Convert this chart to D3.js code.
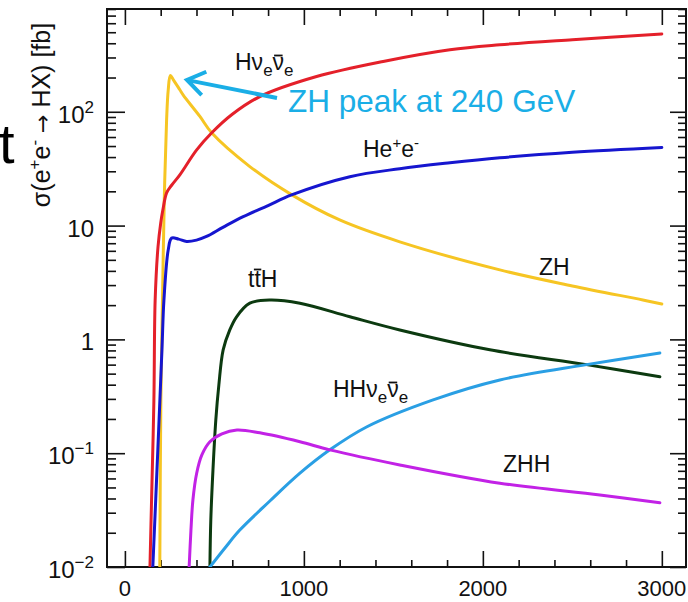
<!DOCTYPE html>
<html><head><meta charset="utf-8">
<script src="https://cdn.jsdelivr.net/npm/d3@7"></script>
<style>
html,body{margin:0;padding:0;background:#fff;}
svg{display:block;font-family:"Liberation Sans",Arial,Helvetica,sans-serif;}
</style></head>
<body>
<svg id="chart" width="688" height="602"></svg>
<script>
// ---------- data (energy in GeV, cross-section in fb) ----------
const xTickLabels = ["0", "1000", "2000", "3000"];
const xMajorTicks = [0, 1000, 2000, 3000];
const yMajorTicks = [0.01, 0.1, 1, 10, 100];
const yTickLabels = [["10", "\u22122"], ["10", "\u22121"], ["1", ""], ["10", ""], ["10", "2"]];

const zhE   = [195, 201, 210, 220, 233, 242, 254, 270, 307, 326, 419, 486, 698, 933, 1200, 1536, 2095, 2500, 2894, 3000];
const zhS   = [0.01, 0.3, 2.2, 17, 85, 155, 208, 192, 156, 140, 91, 65, 33, 18.6, 11.2, 7.2, 4.08, 2.95, 2.22, 2.05];

const hvvE  = [140, 149, 162, 169, 185, 200, 212, 233, 260, 307, 400, 484, 600, 754, 1071, 1443, 1816, 2095, 2500, 3000];
const hvvS  = [0.01, 0.039, 0.29, 2.2, 6.5, 10.5, 13.7, 19.4, 22.5, 27.9, 46, 65, 95, 136, 204, 277, 351, 388, 430, 482];

const heeE  = [156, 184, 207, 218, 242, 261, 300, 345, 400, 456, 550, 661, 800, 931, 1257, 1536, 1816, 2095, 2500, 3000];
const heeS  = [0.01, 0.107, 0.81, 2.2, 6.1, 7.76, 7.6, 7.25, 7.45, 8.02, 9.7, 12.0, 15.0, 18.6, 26.9, 31.6, 35.6, 39.4, 44, 48.5];

const tthE  = [475, 480, 492, 508, 525, 549, 585, 624, 698, 810, 978, 1257, 1536, 2039, 2579, 2989];
const tthS  = [0.01, 0.026, 0.071, 0.196, 0.398, 0.81, 1.2, 1.58, 2.08, 2.22, 2.08, 1.58, 1.21, 0.81, 0.60, 0.47];

const hhvvE = [475, 559, 642, 810, 978, 1145, 1350, 1722, 2095, 2579, 2989];
const hhvvS = [0.01, 0.0147, 0.0211, 0.038, 0.0667, 0.107, 0.170, 0.294, 0.44, 0.60, 0.76];

const zhhE  = [359, 369, 380, 401, 430, 475, 542, 626, 754, 978, 1145, 1536, 2095, 2654, 2989];
const zhhS  = [0.01, 0.0211, 0.0388, 0.0667, 0.0966, 0.126, 0.148, 0.160, 0.151, 0.126, 0.107, 0.0789, 0.0545, 0.0430, 0.0367];

const seriesNames  = ["ZH", "Hvv", "Hee", "ttH", "HHvv", "ZHH"];
const seriesColors = ["#f6c523", "#e4202a", "#1616cf", "#0c3a10", "#2a9fe4", "#c222e6"];

// ---------- layout ----------
const svg = d3.select("#chart");
const L = 107, R = 686, T = 9, B = 567;
const x = d3.scaleLinear().domain([-100, 3135]).range([L, R]);
const y = d3.scaleLog().domain([0.01, 800]).range([B, T]);

const defs = svg.append("defs");
defs.append("clipPath").attr("id", "clip").append("rect")
  .attr("x", L).attr("y", T).attr("width", R - L).attr("height", B - T);

// minor tick values
const xMinor = d3.range(0, 3135, 200).filter(v => v % 1000 !== 0);
const yMinor = [];
[0.01, 0.1, 1, 10, 100].forEach(d => { for (let k = 2; k <= 9; k++) { const v = d * k; if (v <= 800) yMinor.push(v); } });

function styleAxis(g) {
  g.select(".domain").remove();
  g.selectAll(".tick line").attr("stroke", "#111").attr("stroke-width", 1.6);
}
// bottom
svg.append("g").attr("transform", `translate(0,${B})`)
  .call(d3.axisBottom(x).tickValues(xMinor).tickSize(-7).tickFormat("")).call(styleAxis);
svg.append("g").attr("transform", `translate(0,${B})`)
  .call(d3.axisBottom(x).tickValues(xMajorTicks).tickSize(-16).tickFormat("")).call(styleAxis);
// top
svg.append("g").attr("transform", `translate(0,${T})`)
  .call(d3.axisTop(x).tickValues(xMinor).tickSize(-7).tickFormat("")).call(styleAxis);
svg.append("g").attr("transform", `translate(0,${T})`)
  .call(d3.axisTop(x).tickValues(xMajorTicks).tickSize(-16).tickFormat("")).call(styleAxis);
// left
svg.append("g").attr("transform", `translate(${L},0)`)
  .call(d3.axisLeft(y).tickValues(yMinor).tickSize(-9).tickFormat("")).call(styleAxis);
svg.append("g").attr("transform", `translate(${L},0)`)
  .call(d3.axisLeft(y).tickValues(yMajorTicks).tickSize(-18).tickFormat("")).call(styleAxis);
// right
svg.append("g").attr("transform", `translate(${R},0)`)
  .call(d3.axisRight(y).tickValues(yMinor).tickSize(-8).tickFormat("")).call(styleAxis);
svg.append("g").attr("transform", `translate(${R},0)`)
  .call(d3.axisRight(y).tickValues(yMajorTicks).tickSize(-16).tickFormat("")).call(styleAxis);

// frame
svg.append("rect").attr("x", L).attr("y", T).attr("width", R - L).attr("height", B - T)
  .attr("fill", "none").attr("stroke", "#111").attr("stroke-width", 2);

// x tick labels
svg.append("g").selectAll("text").data(xMajorTicks).join("text")
  .attr("x", d => x(d)).attr("y", 596).attr("text-anchor", "middle")
  .attr("font-size", 22).attr("fill", "#111")
  .text((d, i) => xTickLabels[i]);

// y tick labels
const yl = svg.append("g").selectAll("text").data(yMajorTicks).join("text")
  .attr("x", 94).attr("y", d => y(d) + 11).attr("text-anchor", "end")
  .attr("font-size", 24).attr("fill", "#111");
yl.each(function (d, i) {
  const t = d3.select(this);
  const [base, sup] = yTickLabels[i];
  t.append("tspan").text(base);
  if (sup) t.append("tspan").attr("font-size", 17).attr("dy", -10).text(sup);
});

// y axis title
const yt = svg.append("text").attr("transform", "translate(50,115) rotate(-90)")
  .attr("text-anchor", "middle").attr("font-size", 25).attr("fill", "#111");
yt.append("tspan").text("\u03c3(e");
yt.append("tspan").attr("font-size", 17).attr("dy", -10).text("+");
yt.append("tspan").attr("dy", 10).text("e");
yt.append("tspan").attr("font-size", 17).attr("dy", -10).text("-");
yt.append("tspan").attr("dy", 10).text(" ");
yt.append("tspan").attr("font-family", "DejaVu Sans").attr("font-size", 22).text("\u2192");
yt.append("tspan").text(" HX) [fb]");

// big cropped "t"
svg.append("text").attr("x", -1).attr("y", 163).attr("font-size", 56).attr("fill", "#000").text("t");

// curves
const allE = [zhE, hvvE, heeE, tthE, hhvvE, zhhE];
const allS = [zhS, hvvS, heeS, tthS, hhvvS, zhhS];
const line = d3.line().x(d => x(d[0])).y(d => y(d[1])).curve(d3.curveCatmullRom.alpha(0.5));
const curves = svg.append("g").attr("clip-path", "url(#clip)");
seriesNames.forEach((name, i) => {
  const pts = allE[i].map((e, j) => [e, allS[i][j]]);
  curves.append("path").datum(pts).attr("d", line)
    .attr("fill", "none").attr("stroke", seriesColors[i]).attr("stroke-width", 3)
    .attr("stroke-linejoin", "round").attr("stroke-linecap", "round");
});

// curve labels
function label(xp, yp, parts, barLift, barPad) {
  const t = svg.append("text").attr("x", xp).attr("y", yp).attr("font-size", 23).attr("fill", "#111");
  let idx = 0;
  const bars = [];
  parts.forEach(p => {
    const s = t.append("tspan").text(p.t);
    if (p.fs) s.attr("font-size", p.fs);
    if (p.dy) s.attr("dy", p.dy);
    if (p.bar !== undefined) bars.push(idx + p.bar);
    idx += p.t.length;
  });
  const node = t.node();
  bars.forEach(ci => {
    const ex = node.getExtentOfChar(ci);
    svg.append("line")
      .attr("x1", ex.x + barPad).attr("x2", ex.x + ex.width - barPad)
      .attr("y1", yp - barLift).attr("y2", yp - barLift)
      .attr("stroke", "#111").attr("stroke-width", 1.8);
  });
}
label(235, 70, [{t: "H\u03bd"}, {t: "e", fs: 17, dy: 6}, {t: "\u03bd", dy: -6, bar: 0}, {t: "e", fs: 17, dy: 6}], 14.5, 1.5);
label(363, 157, [{t: "He"}, {t: "+", fs: 15, dy: -9}, {t: "e", dy: 9}, {t: "-", fs: 15, dy: -9}], 0, 0);
label(248, 287, [{t: "t"}, {t: "t", bar: 0}, {t: "H"}], 17.5, -0.5);
label(333, 397, [{t: "HH\u03bd"}, {t: "e", fs: 17, dy: 6}, {t: "\u03bd", dy: -6, bar: 0}, {t: "e", fs: 17, dy: 6}], 14.5, 1.5);
label(503, 472, [{t: "ZHH"}], 0, 0);
label(539, 275, [{t: "ZH"}], 0, 0);

// annotation
const cyan = "#1aaee6";
svg.append("text").attr("x", 288).attr("y", 112).attr("font-size", 31.5).attr("fill", cyan)
  .text("ZH peak at 240 GeV");
const tipX = 187, tipY = 80, tailX = 277, tailY = 98;
const ang = Math.atan2(tailY - tipY, tailX - tipX);
const arm = 21, spread = 0.6;
svg.append("line").attr("x1", tailX).attr("y1", tailY).attr("x2", tipX + 3).attr("y2", tipY + 0.6)
  .attr("stroke", cyan).attr("stroke-width", 4);
svg.append("path")
  .attr("d", `M${tipX + arm * Math.cos(ang - spread)},${tipY + arm * Math.sin(ang - spread)} L${tipX},${tipY} L${tipX + arm * Math.cos(ang + spread)},${tipY + arm * Math.sin(ang + spread)}`)
  .attr("fill", "none").attr("stroke", cyan).attr("stroke-width", 4).attr("stroke-linejoin", "miter");
</script>
</body></html>
